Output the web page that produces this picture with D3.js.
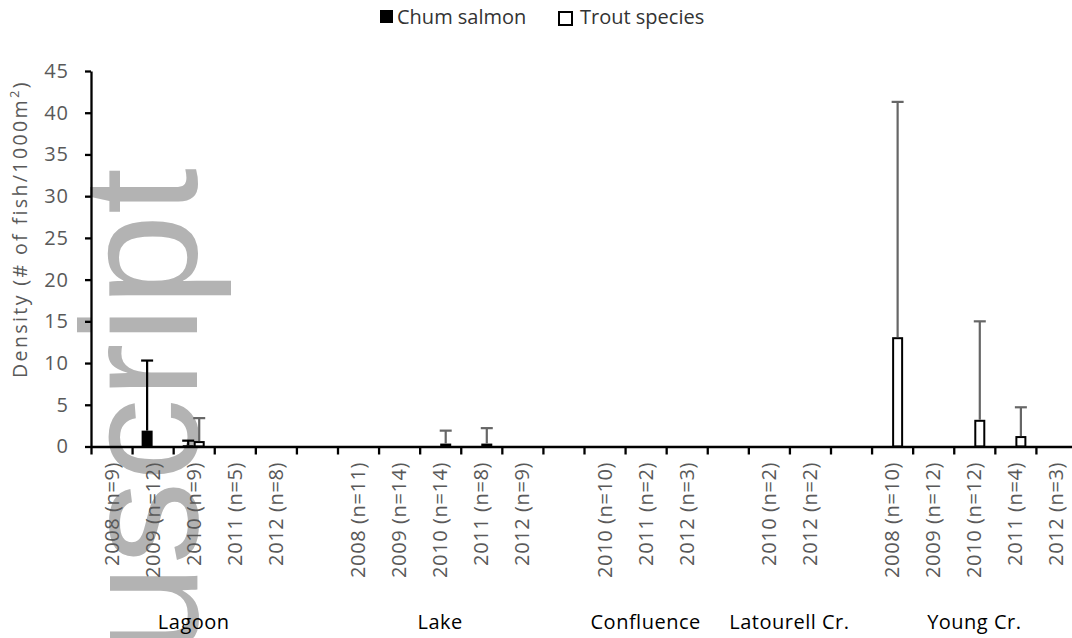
<!DOCTYPE html>
<html>
<head>
<meta charset="utf-8">
<script src="https://cdn.jsdelivr.net/npm/d3@7"></script>
<style>
  body { margin: 0; background: #fff; }
  svg { display: block; }
  text { font-family: "Open Sans", sans-serif; }
</style>
</head>
<body>
<div id="chart"></div>
<script>
// sites and their sampled years (tick labels)
const sites = ["Lagoon", "Lake", "Confluence", "Latourell Cr.", "Young Cr."];
const lagoonYears = ["2008 (n=9)", "2009 (n=12)", "2010 (n=9)", "2011 (n=5)", "2012 (n=8)"];
const lakeYears = ["2008 (n=11)", "2009 (n=14)", "2010 (n=14)", "2011 (n=8)", "2012 (n=9)"];
const confluenceYears = ["2010 (n=10)", "2011 (n=2)", "2012 (n=3)"];
const latourellYears = ["2010 (n=2)", "2012 (n=2)"];
const youngYears = ["2008 (n=10)", "2009 (n=12)", "2010 (n=12)", "2011 (n=4)", "2012 (n=3)"];
const siteYears = [lagoonYears, lakeYears, confluenceYears, latourellYears, youngYears];

// mean density and SD, one entry per site-year in the order above
const chumMean  = [0, 1.9, 0.15, 0, 0,  0, 0, 0, 0, 0,  0, 0, 0,  0, 0,  0, 0, 0, 0, 0];
const chumSD    = [0, 8.4, 0.55, 0, 0,  0, 0, 0, 0, 0,  0, 0, 0,  0, 0,  0, 0, 0, 0, 0];
const troutMean = [0, 0, 0.65, 0, 0,  0, 0, 0.35, 0.35, 0,  0, 0, 0,  0, 0,  13.1, 0, 3.2, 1.25, 0];
const troutSD   = [0, 0, 2.75, 0, 0,  0, 0, 1.55, 1.85, 0,  0, 0, 0,  0, 0,  28.2, 0, 11.8, 3.45, 0];

const yTicks = [0, 5, 10, 15, 20, 25, 30, 35, 40, 45];

const width = 1072, height = 638;
const svg = d3.select("#chart").append("svg")
  .attr("width", width)
  .attr("height", height);

// build slots: site years with an empty slot between sites
const slots = [];
let k = 0;
siteYears.forEach((years, si) => {
  years.forEach(label => {
    slots.push({ id: si + "|" + label, site: si, label: label, idx: k });
    k++;
  });
  if (si < sites.length - 1) slots.push({ id: "gap" + si, site: si, label: null, idx: null });
});
const dataSlots = slots.filter(s => s.label !== null);

const x0 = 91, x1 = 1077;
const x = d3.scaleBand().domain(slots.map(s => s.id)).range([x0, x1]).padding(0);
const xEdges = d3.scaleLinear().domain([0, slots.length]).range([x0, x1]);
const y = d3.scaleLinear().domain([0, 45]).range([446.5, 71]);

// watermark
svg.append("text")
  .attr("transform", "translate(197,168) rotate(-90)")
  .attr("text-anchor", "end")
  .style("font-family", "'Liberation Sans', Arial, sans-serif")
  .attr("font-size", 166)
  .attr("fill", "#b3b3b3")
  .text("Author Manuscript");

const barW = 11;
const cx = s => x(s.id) + x.bandwidth() / 2;

// bars
const g = svg.append("g");
g.selectAll("rect.chum")
  .data(dataSlots.filter(s => chumMean[s.idx] > 0))
  .join("rect")
  .attr("class", "chum")
  .attr("x", s => cx(s) - barW)
  .attr("width", barW)
  .attr("y", s => y(chumMean[s.idx]))
  .attr("height", s => y(0) - y(chumMean[s.idx]))
  .attr("fill", "#000");

g.selectAll("rect.trout")
  .data(dataSlots.filter(s => troutMean[s.idx] > 0))
  .join("rect")
  .attr("class", "trout")
  .attr("x", s => cx(s) + 1)
  .attr("width", barW - 2)
  .attr("y", s => y(troutMean[s.idx]) + 1)
  .attr("height", s => Math.max(0, y(0) - y(troutMean[s.idx]) - 1))
  .attr("fill", "#fff")
  .attr("stroke", "#000")
  .attr("stroke-width", 2);

// error bars (upper half only)
function errorBars(cls, mean, sd, offset, color) {
  const eb = g.selectAll("g." + cls)
    .data(dataSlots.filter(s => sd[s.idx] > 0))
    .join("g")
    .attr("class", cls)
    .attr("stroke", color)
    .attr("stroke-width", 2.2);
  eb.append("line")
    .attr("x1", s => cx(s) + offset)
    .attr("x2", s => cx(s) + offset)
    .attr("y1", s => y(mean[s.idx]))
    .attr("y2", s => y(mean[s.idx] + sd[s.idx]));
  eb.append("line")
    .attr("x1", s => cx(s) + offset - 6)
    .attr("x2", s => cx(s) + offset + 6)
    .attr("y1", s => y(mean[s.idx] + sd[s.idx]))
    .attr("y2", s => y(mean[s.idx] + sd[s.idx]));
}
errorBars("chumErr", chumMean, chumSD, -barW / 2, "#000");
errorBars("troutErr", troutMean, troutSD, barW / 2, "#666");

// y axis
const yAxis = svg.append("g")
  .attr("transform", `translate(${x0},0)`)
  .call(d3.axisLeft(y).tickValues(yTicks).tickSize(6).tickSizeOuter(0).tickPadding(16));
yAxis.select(".domain").attr("stroke", "#000").attr("stroke-width", 2.3);
yAxis.selectAll(".tick line").attr("stroke", "#000").attr("stroke-width", 2.3);
yAxis.selectAll(".tick text")
  .attr("fill", "#595959")
  .attr("font-size", 20)
  .style("font-family", "'Open Sans', sans-serif")
  .attr("letter-spacing", 1);

// x axis: ticks at slot boundaries
const xAxis = svg.append("g")
  .attr("transform", `translate(0,${y(0)})`)
  .call(d3.axisBottom(xEdges).tickValues(d3.range(0, slots.length + 1)).tickFormat("").tickSize(8).tickSizeOuter(0));
xAxis.select(".domain").attr("stroke", "#000").attr("stroke-width", 2.3);
xAxis.selectAll(".tick line").attr("stroke", "#000").attr("stroke-width", 2.3);

// rotated category labels
svg.append("g").selectAll("text")
  .data(dataSlots)
  .join("text")
  .attr("transform", s => `translate(${cx(s)},462) rotate(-90)`)
  .attr("text-anchor", "end")
  .attr("dy", "0.35em")
  .attr("font-size", 20)
  .attr("letter-spacing", 0.6)
  .attr("fill", "#595959")
  .text(s => s.label);

// site labels
svg.append("g").selectAll("text")
  .data(sites)
  .join("text")
  .attr("x", (d, i) => {
    const ss = slots.filter(s => s.site === i && s.label !== null);
    return (x(ss[0].id) + x(ss[ss.length - 1].id) + x.bandwidth()) / 2;
  })
  .attr("y", 629)
  .attr("text-anchor", "middle")
  .attr("font-size", 20)
  .attr("letter-spacing", 0.5)
  .attr("fill", "#000")
  .text(d => d);

// y axis title
const yt = svg.append("text")
  .attr("transform", "translate(27,229) rotate(-90)")
  .attr("text-anchor", "middle")
  .attr("font-size", 19.5)
  .attr("letter-spacing", 2.4)
  .attr("fill", "#595959");
yt.append("tspan").text("Density (# of fish/1000m");
yt.append("tspan").attr("font-size", 13).attr("dy", -8).text("2");
yt.append("tspan").attr("dy", 8).text(")");

// legend
const legend = svg.append("g");
legend.append("rect").attr("x", 380).attr("y", 10).attr("width", 13).attr("height", 13).attr("fill", "#000");
legend.append("text").attr("x", 397).attr("y", 24).attr("font-size", 20).attr("fill", "#333").text("Chum salmon");
legend.append("rect").attr("x", 559).attr("y", 12).attr("width", 13).attr("height", 13)
  .attr("fill", "#fff").attr("stroke", "#000").attr("stroke-width", 2);
legend.append("text").attr("x", 580).attr("y", 24).attr("font-size", 20).attr("fill", "#333").text("Trout species");
</script>
</body>
</html>
